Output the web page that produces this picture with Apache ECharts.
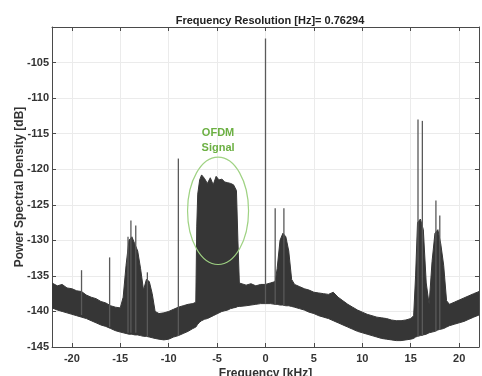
<!DOCTYPE html>
<html>
<head>
<meta charset="utf-8">
<script src="https://cdn.jsdelivr.net/npm/echarts/dist/echarts.min.js"></script>
<style>
html, body { margin: 0; padding: 0; background: #fff; }
#chart { width: 482px; height: 376px; }
</style>
</head>
<body>
<div id="chart"></div>
<script>
// spectrum envelope (kHz / dB)
var freqKHz = [
  -22.05, -21.5, -21, -20.5, -20, -19.5, -19, -18.5, -18, -17.5, -17, -16.5, -16, -15.5, -15,
  -14.7, -14.4, -14.1, -13.8, -13.5, -13.2, -12.9, -12.6, -12.3, -12, -11.7, -11.4, -11, -10.5,
  -10, -9.5, -9, -8.5, -8, -7.5, -7.2, -7.1, -7.0, -6.8, -6.6, -6.3, -6.0, -5.7, -5.4, -5.1,
  -4.8, -4.5, -4.2, -3.9, -3.6, -3.3, -3.0, -2.85, -2.7, -2, -1.5, -1, -0.5, 0, 0.5, 1.0,
  1.2, 1.5, 1.8, 2.1, 2.4, 2.7, 3.0, 3.5, 4, 4.5, 5, 5.5, 6, 6.5, 7, 7.5, 8, 8.5, 9, 9.5,
  10, 10.5, 11, 11.5, 12, 12.5, 13, 13.5, 14, 14.5, 15, 15.3, 15.5, 15.7, 16.0, 16.3, 16.6,
  16.9, 17.2, 17.5, 17.8, 18.1, 18.4, 18.7, 19, 19.5, 20, 20.5, 21, 21.5, 22.05
];
var upperDb = [
  -136.0, -136.4, -136.2, -136.7, -136.8, -137.1, -137.2, -137.7, -138.0, -138.2, -138.6, -138.8, -139.2, -139.4, -139.5,
  -138.0, -133.5, -130.0, -129.5, -130.5, -131.5, -134.0, -137.0, -135.5, -135.8, -137.5, -140.0, -140.3, -140.2,
  -140.0, -139.7, -139.4, -139.2, -139.0, -138.9, -138.7, -128.0, -123.5, -121.5, -120.8, -121.3, -122.0, -121.2, -122.2, -121.0,
  -121.5, -121.4, -121.8, -121.9, -122.0, -122.2, -123.0, -130.0, -136.0, -136.3, -136.1, -136.4, -136.2, -136.2, -136.0, -135.8,
  -134.0, -130.0, -129.0, -129.5, -131.5, -135.5, -136.2, -136.5, -136.8, -137.0, -137.3, -137.4, -137.5, -137.6, -137.3, -138.0, -138.5, -139.0, -139.4, -139.8,
  -140.1, -140.4, -140.6, -140.8, -140.9, -141.0, -141.2, -141.3, -141.3, -141.2, -141.0, -140.6, -135.0, -127.5, -127.0, -128.5, -136.0,
  -139.0, -133.0, -129.0, -128.5, -130.5, -133.5, -138.5, -139.0, -138.7, -138.4, -138.1, -137.8, -137.5, -137.2
];
var lowerDb = [
  -139.5, -139.8, -140.0, -140.2, -140.4, -140.6, -140.8, -141.0, -141.3, -141.6, -141.9, -142.1, -142.4, -142.7, -142.9,
  -143.0, -143.1, -143.2, -143.2, -143.3, -143.3, -143.4, -143.5, -143.5, -143.6, -143.7, -143.8, -143.9, -144.0,
  -143.9, -143.6, -143.4, -143.1, -142.8, -142.4, -142.2, -142.0, -141.8, -141.5, -141.3, -141.1, -141.0, -140.8, -140.6, -140.4,
  -140.2, -140.0, -139.9, -139.8, -139.6, -139.5, -139.4, -139.3, -139.3, -139.2, -139.1, -139.0, -138.9, -138.9, -138.9, -139.0,
  -139.0, -139.1, -139.1, -139.2, -139.2, -139.3, -139.4, -139.6, -139.8, -140.1, -140.3, -140.6, -140.8, -141.0, -141.3, -141.6, -141.9, -142.2, -142.5, -142.8,
  -143.0, -143.2, -143.4, -143.6, -143.8, -143.9, -144.0, -144.1, -144.1, -144.0, -143.9, -143.8, -143.6, -143.5, -143.4, -143.3, -143.2,
  -143.0, -142.9, -142.8, -142.6, -142.5, -142.4, -142.2, -142.0, -141.8, -141.6, -141.4, -141.1, -140.8, -140.5
];

// narrow tones sticking out of the noise floor
var spikeKHz    = [-19.0, -16.1, -14.2, -13.9, -13.4, -12.2, -9.0, 0.0, 1.0, 1.9, 15.75, 16.2, 17.6, 18.0];
var spikeBaseDb = [-140.5, -142.2, -143, -143, -143, -143.5, -143.4, -138.9, -139, -139.2, -143.5, -143.4, -142.8, -142.6];
var spikePeakDb = [-134.2, -132.4, -129.5, -127.2, -127.9, -134.5, -118.5, -101.6, -125.5, -125.5, -113.0, -113.2, -124.4, -126.5];

var xTicks = [-20, -15, -10, -5, 0, 5, 10, 15, 20];

// annotation around the OFDM block
var ofdmCenter = [-4.9, -125.85];
var ofdmRadius = [3.15, 7.55];

var chart = echarts.init(document.getElementById('chart'));
var axisColor = '#4a4a4a';
var labelStyle = { color: '#333', fontSize: 11, fontWeight: 'bold', fontFamily: 'Liberation Sans' };

function renderBand(params, api) {
  var top = [], bottom = [];
  for (var i = 0; i < freqKHz.length; i++) {
    top.push(api.coord([freqKHz[i], upperDb[i]]));
    bottom.unshift(api.coord([freqKHz[i], lowerDb[i]]));
  }
  return {
    type: 'polygon',
    shape: { points: top.concat(bottom) },
    style: { fill: '#363636', stroke: '#363636', lineWidth: 1 }
  };
}

function renderSpike(params, api) {
  var a = api.coord([api.value(0), api.value(1)]);
  var b = api.coord([api.value(0), api.value(2)]);
  return {
    type: 'line',
    shape: { x1: a[0], y1: a[1], x2: b[0], y2: b[1] },
    style: { stroke: '#5a5a5a', lineWidth: 1.3 }
  };
}

function renderEllipse(params, api) {
  var c = api.coord(ofdmCenter);
  var e = api.coord([ofdmCenter[0] + ofdmRadius[0], ofdmCenter[1] + ofdmRadius[1]]);
  var ry = Math.abs(e[1] - c[1]);
  return {
    type: 'group',
    children: [{
      type: 'ellipse',
      shape: { cx: c[0], cy: c[1], rx: Math.abs(e[0] - c[0]), ry: ry },
      style: { fill: 'none', stroke: '#9fd283', lineWidth: 1.2 }
    }, {
      type: 'text',
      x: c[0], y: c[1] - ry - 32,
      style: {
        text: 'OFDM\nSignal', fill: '#6cb043', font: 'bold 11px Liberation Sans',
        align: 'center', verticalAlign: 'top', lineHeight: 15
      }
    }]
  };
}

var option = {
  animation: false,
  title: {
    text: 'Frequency Resolution [Hz]= 0.76294',
    left: 265, top: 10, textAlign: 'center',
    textStyle: { fontSize: 11, fontWeight: 'bold', color: '#222', fontFamily: 'Liberation Sans' }
  },
  grid: { left: 52, right: 3, top: 27, bottom: 29, outerBoundsMode: 'none', containLabel: false },
  xAxis: [{
    type: 'value', min: -22.05, max: 22.05, position: 'bottom',
    name: 'Frequency [kHz]', nameLocation: 'middle', nameGap: 21, nameMoveOverlap: false,
    nameTextStyle: { fontSize: 12, fontWeight: 'bold', color: '#333', fontFamily: 'Liberation Sans' },
    axisLine: { show: true, onZero: false, lineStyle: { color: axisColor } },
    axisTick: { show: true, inside: true, length: 4, customValues: xTicks, lineStyle: { color: axisColor } },
    axisLabel: Object.assign({ customValues: xTicks, margin: 6 }, labelStyle),
    splitLine: { show: true, lineStyle: { color: '#ebebeb' } }
  }, {
    type: 'value', min: -22.05, max: 22.05, position: 'top',
    axisLine: { show: true, onZero: false, lineStyle: { color: axisColor } },
    axisTick: { show: true, inside: true, length: 4, customValues: xTicks, lineStyle: { color: axisColor } },
    axisLabel: { show: false },
    splitLine: { show: false }
  }],
  yAxis: [{
    type: 'value', min: -145, max: -100, interval: 5, position: 'left',
    name: 'Power Spectral Density [dB]', nameLocation: 'middle', nameGap: 26, nameMoveOverlap: false,
    nameTextStyle: { fontSize: 12, fontWeight: 'bold', color: '#333', fontFamily: 'Liberation Sans' },
    axisLine: { show: true, onZero: false, lineStyle: { color: axisColor } },
    axisTick: { show: true, inside: true, length: 4, lineStyle: { color: axisColor } },
    axisLabel: Object.assign({
      margin: 3,
      formatter: function (v) { return v === -100 ? '' : String(v); }
    }, labelStyle),
    splitLine: { show: true, lineStyle: { color: '#ebebeb' } }
  }, {
    type: 'value', min: -145, max: -100, interval: 5, position: 'right',
    axisLine: { show: true, onZero: false, lineStyle: { color: axisColor } },
    axisTick: { show: true, inside: true, length: 4, lineStyle: { color: axisColor } },
    axisLabel: { show: false },
    splitLine: { show: false }
  }],
  series: [{
    type: 'custom', name: 'band', renderItem: renderBand, clip: true,
    data: [[freqKHz[0], lowerDb[0]]], silent: true
  }, {
    type: 'custom', name: 'spikes', renderItem: renderSpike, clip: true,
    encode: { x: 0, y: [1, 2] },
    data: spikeKHz.map(function (f, i) { return [f, spikeBaseDb[i], spikePeakDb[i]]; }),
    silent: true
  }, {
    type: 'custom', name: 'ofdm', renderItem: renderEllipse,
    data: [ofdmCenter], silent: true
  }]
};

chart.setOption(option);
</script>
</body>
</html>
